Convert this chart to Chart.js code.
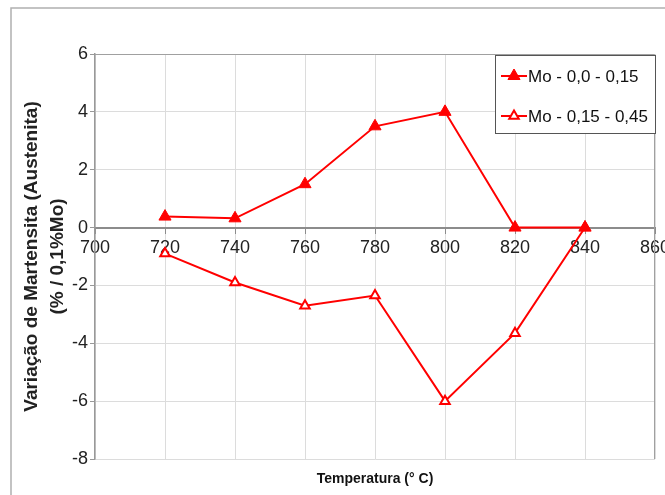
<!DOCTYPE html>
<html>
<head>
<meta charset="utf-8">
<script src="https://cdn.jsdelivr.net/npm/chart.js@4.4.1/dist/chart.umd.min.js"></script>
<style>
  body { margin: 0; background: #fff; }
  canvas { display: block; }
</style>
</head>
<body>
<canvas id="chart" width="665" height="495"></canvas>
<script>
// data
const temps = [720, 740, 760, 780, 800, 820, 840];
const moLow = [0.38, 0.32, 1.5, 3.5, 4.0, 0, 0];           // Mo - 0,0 - 0,15
const moHigh = [-0.9, -1.9, -2.7, -2.35, -6.0, -3.65, 0];  // Mo - 0,15 - 0,45
const seriesNames = ['Mo - 0,0 - 0,15', 'Mo - 0,15 - 0,45'];
const yTitle = ['Variação de Martensita (Austenita)', '(% / 0,1%Mo)'];
const xTitle = 'Temperatura (° C)';

const red = '#ff0000';

function triangle(ctx, x, y, r, filled) {
    ctx.beginPath();
    ctx.moveTo(x, y - r);
    ctx.lineTo(x + r * 0.866, y + r * 0.5);
    ctx.lineTo(x - r * 0.866, y + r * 0.5);
    ctx.closePath();
    if (filled) {
        ctx.fillStyle = red;
        ctx.fill();
        ctx.lineWidth = 1;
        ctx.strokeStyle = red;
        ctx.stroke();
    } else {
        ctx.fillStyle = '#fff';
        ctx.fill();
        ctx.lineWidth = 2;
        ctx.strokeStyle = red;
        ctx.stroke();
    }
}

// outer frame, plot border, legend box and x title
const extras = {
    id: 'extras',
    beforeDraw(chart) {
        const ctx = chart.ctx;
        ctx.save();
        ctx.strokeStyle = '#b0b0b0';
        ctx.lineWidth = 1.5;
        ctx.beginPath();
        ctx.moveTo(11, 495);
        ctx.lineTo(11, 8);
        ctx.lineTo(665, 8);
        ctx.stroke();
        ctx.restore();
    },
    afterDatasetsDraw(chart) {
        const ctx = chart.ctx;
        const a = chart.chartArea;
        ctx.save();
        ctx.strokeStyle = '#a0a0a0';
        ctx.lineWidth = 1;
        ctx.beginPath();
        ctx.moveTo(a.left, a.top + 0.5);
        ctx.lineTo(a.right - 0.5, a.top + 0.5);
        ctx.lineTo(a.right - 0.5, a.bottom);
        ctx.stroke();

        // legend
        ctx.fillStyle = '#fff';
        ctx.fillRect(495, 55, 160, 78);
        ctx.strokeStyle = '#555';
        ctx.strokeRect(495.5, 55.5, 160, 78);
        const rows = [76, 116];
        ctx.font = '17px "Liberation Sans", Arial, sans-serif';
        ctx.textBaseline = 'middle';
        for (let i = 0; i < 2; i++) {
            const y = rows[i];
            ctx.strokeStyle = red;
            ctx.lineWidth = 2;
            ctx.beginPath();
            ctx.moveTo(501, y);
            ctx.lineTo(527, y);
            ctx.stroke();
            triangle(ctx, 514, y, i === 0 ? 7 : 5.5, i === 0);
            ctx.fillStyle = '#111';
            ctx.fillText(seriesNames[i], 528, y + 1);
        }

        // x axis title at the bottom
        ctx.font = 'bold 14px "Liberation Sans", Arial, sans-serif';
        ctx.textAlign = 'center';
        ctx.fillStyle = '#111';
        ctx.fillText(xTitle, (a.left + a.right) / 2, 479);
        ctx.restore();
    }
};

const ctx = document.getElementById('chart').getContext('2d');
const chart = new Chart(ctx, {
    type: 'line',
    data: {
        datasets: [{
            label: seriesNames[0],
            data: temps.map((t, i) => ({ x: t, y: moLow[i] })),
            borderColor: red,
            backgroundColor: red,
            borderWidth: 2,
            pointStyle: 'triangle',
            pointRadius: 7,
            pointBorderWidth: 1,
            pointBackgroundColor: red,
            pointBorderColor: red
        }, {
            label: seriesNames[1],
            data: temps.map((t, i) => ({ x: t, y: moHigh[i] })),
            borderColor: red,
            backgroundColor: '#fff',
            borderWidth: 2,
            pointStyle: 'triangle',
            pointRadius: 5.5,
            pointBorderWidth: 2,
            pointBackgroundColor: '#fff',
            pointBorderColor: red
        }]
    },
    options: {
        responsive: false,
        animation: false,
        devicePixelRatio: 1,
        layout: {
            padding: { top: 54, right: 10, bottom: 36, left: 0 }
        },
        plugins: {
            legend: { display: false },
            tooltip: { enabled: false }
        },
        scales: {
            x: {
                type: 'linear',
                position: { y: 0 },
                min: 700,
                max: 860,
                afterFit(scale) {
                    scale.paddingLeft = 0;
                    scale.paddingRight = 0;
                },
                ticks: {
                    stepSize: 20,
                    padding: 5,
                    color: '#222',
                    font: { family: '"Liberation Sans", Arial, sans-serif', size: 18 }
                },
                grid: {
                    color: '#dcdcdc',
                    tickColor: '#8c8c8c',
                    tickLength: 5
                },
                border: { color: '#8c8c8c', width: 2 }
            },
            y: {
                min: -8,
                max: 6,
                afterFit(scale) {
                    scale.width = 95;
                    scale.paddingTop = 0;
                    scale.paddingBottom = 0;
                },
                ticks: {
                    stepSize: 2,
                    padding: 2,
                    color: '#222',
                    font: { family: '"Liberation Sans", Arial, sans-serif', size: 18 }
                },
                grid: {
                    color: '#dcdcdc',
                    tickColor: '#999',
                    tickLength: 5
                },
                border: { color: '#999', width: 1.5 },
                title: {
                    display: true,
                    text: yTitle,
                    color: '#222',
                    padding: { top: 19, bottom: 0 },
                    font: { family: '"Liberation Sans", Arial, sans-serif', size: 19, weight: 'bold', lineHeight: 1.35 }
                }
            }
        }
    },
    plugins: [extras]
});
</script>
</body>
</html>
